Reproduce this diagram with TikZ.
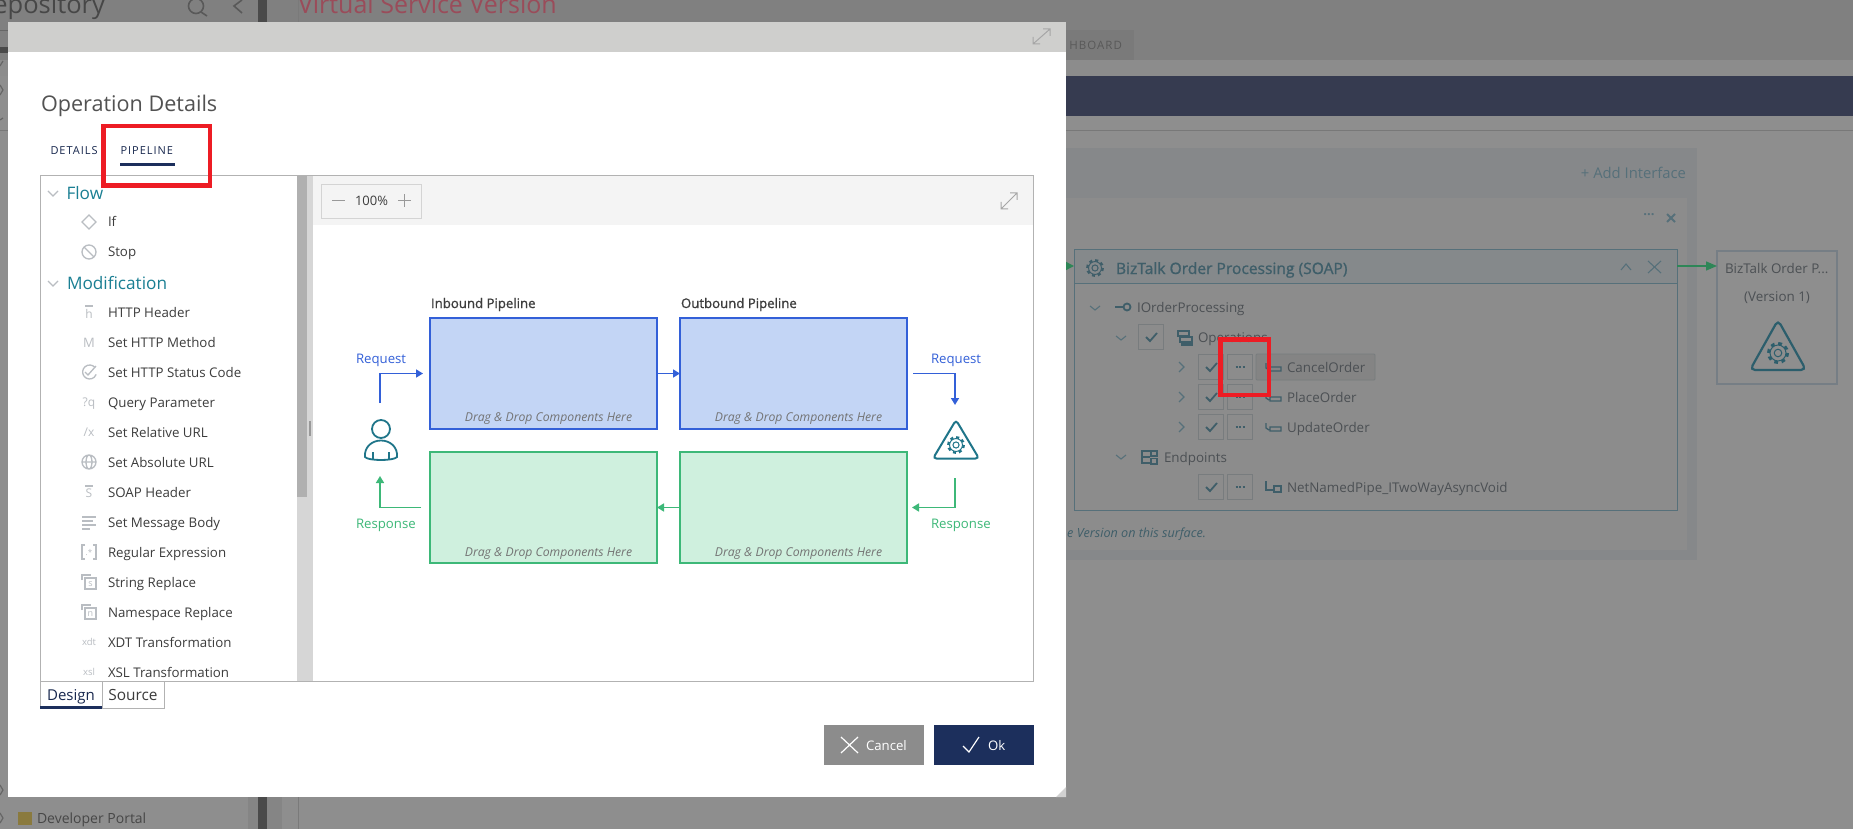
\documentclass[tikz,border=0pt]{standalone}
\usepackage{fontspec}
\setmainfont{Open Sans}
\newfontfamily\semifont[FakeBold=1.1]{Open Sans}
\newfontfamily\spacedfont[LetterSpace=9]{Open Sans}
\usetikzlibrary{arrows.meta}
\definecolor{navyui}{HTML}{1C2F5C}
\definecolor{tealui}{HTML}{1A7F93}
\definecolor{icongray}{HTML}{B9BDC2}
\definecolor{textui}{HTML}{3C3C3C}
\definecolor{redmark}{HTML}{ED1C24}
\definecolor{bluestroke}{HTML}{3360D8}
\definecolor{bluefill}{HTML}{C3D5F5}
\definecolor{greenstroke}{HTML}{3DB878}
\definecolor{greenfill}{HTML}{CFF0DE}
\definecolor{iconteal}{HTML}{1F7589}
\definecolor{dimpage}{HTML}{8E8E8E}
\definecolor{dimteal}{HTML}{3F5E69}
\definecolor{dimline}{HTML}{56707A}
\definecolor{dimtext}{HTML}{4C5054}
\definecolor{dimbox}{HTML}{787C7E}
\definecolor{dimgreen}{HTML}{2E8657}
\definecolor{navybar}{HTML}{363B50}
\definecolor{panelouter}{HTML}{86888A}
\definecolor{panelinner}{HTML}{8C8C8C}
\definecolor{darkstrip}{HTML}{4A4A4A}
\definecolor{sidestrip}{HTML}{858585}
\definecolor{folder}{HTML}{8A7A3E}
\definecolor{dimred}{HTML}{9A4C5A}
\definecolor{headerdim}{HTML}{85898B}
\definecolor{boxdim}{HTML}{767E85}
\definecolor{triteal}{HTML}{2C5E6C}
\definecolor{rowfill}{HTML}{848484}
\definecolor{modalhead}{HTML}{CFCFCD}
\definecolor{track}{HTML}{D6D6D6}
\definecolor{thumb}{HTML}{B0B0B0}
\definecolor{toolbar}{HTML}{F4F4F4}
\newcommand{\sz}[1]{\fontsize{#1}{#1}\selectfont}
\tikzset{
  plain/.style = {inner sep=0pt, outer sep=0pt},
  listtext/.style = {plain, anchor=base west, text=textui, font=\sz{13.3}},
  grouptext/.style = {plain, anchor=base west, text=tealui, font=\sz{17.2}},
  icontext/.style = {plain, anchor=base, text=icongray, font=\sz{#1}},
  icontext/.default = 12,
  iconline/.style = {draw=icongray, line width=1.3},
  fold/.style = {draw=#1, line width=1.1},
  fold/.default = icongray,
  panebox/.style = {plain, draw, minimum width=227pt, minimum height=111pt, line width=2},
  bluebox/.style = {panebox, draw=bluestroke, fill=bluefill},
  greenbox/.style = {panebox, draw=greenstroke, fill=greenfill},
  dragtext/.style = {plain, anchor=base, text=black!55, font=\sz{12.2}\itshape},
  titletext/.style = {plain, anchor=base west, text=textui, font=\semifont\sz{13.2}},
  flowlabel/.style = {plain, anchor=base west, text=#1, font=\sz{13.2}},
  blueflow/.style = {draw=bluestroke, line width=1.6, -{Triangle[length=7pt,width=8pt]}},
  greenflow/.style = {draw=greenstroke, line width=1.6, -{Triangle[length=7pt,width=8pt]}},
  redmarker/.style = {draw=redmark, line width=4.5},
  dimtick/.style = {plain, draw=dimbox, minimum width=25.5pt, minimum height=25.5pt, line width=0.8},
  dimrow/.style = {plain, anchor=base west, text=dimtext, font=\sz{13.4}},
  dimdots/.style = {draw=dimteal, line width=1.5, dash pattern=on 2 off 1.5},
}
\newcommand{\drawgear}[4]{% x, y, radius, colour
  \pgfmathsetmacro{\gearlen}{0.36*#3}
  \draw[#4, line width=1] (#1,#2) circle (0.36*#3);
  \draw[#4, line width=1] (#1,#2) circle (0.76*#3);
  \draw[#4, line width=0.26*#3, dash pattern=on \gearlen pt off \gearlen pt] (#1,#2) circle (0.92*#3);
}
\begin{document}
\begin{tikzpicture}[x=1pt,y=-1pt]
	\useasboundingbox (0,0) rectangle (1853,829);
	\def \col{1074}
	\def \drag{Drag \& Drop Components Here}

	% Page behind the dialog
	\fill[dimpage] (0,0) rectangle (1853,829);
	\fill[black!50] (0,0) rectangle (1853,60);
	\fill[black!52] (1000,30) rectangle (1134,60);
	\fill[black!45] (0,60) rectangle (1853,76);
	\fill[navybar] (1000,76) rectangle (1853,116);
	\draw[black!53, line width=1] (0,131) -- (1853,131);
	\fill[panelouter] (1000,148) rectangle (1697,560);
	\fill[panelinner] (1000,198) rectangle (1687,550);
	\fill[sidestrip] (248,797) rectangle (282,829);
	\fill[darkstrip] (258,0) rectangle (267,829);
	\draw[black!52, line width=1] (298,0) -- (298,829);
	\node[plain, anchor=base east, text=black!72, font=\sz{25.5}] (repotext) at (105,14) {epository};
	\draw[black!65, line width=1.6] (196,6) circle (7.5);
	\draw[black!65, line width=1.6] (201,12) -- (207,16);
	\draw[black!65, line width=1.6] (242,0) -- (234,6) -- (242,13);
	\node[plain, anchor=base west, text=dimred, font=\sz{25}] (versiontext) at (298,14) {Virtual Service Version};
	\node[plain, anchor=base east, text=black!65, font=\spacedfont\sz{11.5}] (dashtext) at (1122,50) {HBOARD};
	\fill[darkstrip] (0,47) rectangle (8,53);
	\draw[black!60, line width=1] (0,31) -- (8,31);
	\draw[black!60, line width=1.2] (0,66) -- (3,61);
	\draw[black!60, line width=1.2] (0,85) -- (3,90) -- (0,95);
	\draw[black!60, line width=1.2] (0,120) -- (3,118);
	\draw[black!60, line width=1.2] (0,785) -- (3,790) -- (0,795);
	\draw[black!60, line width=1.2] (0,813) -- (3,818) -- (0,823);
	\fill[folder] (18,812) rectangle (32,825);
	\node[plain, anchor=base west, text=black!72, font=\sz{14}] (portaltext) at (37,823) {Developer Portal};
	\node[plain, anchor=base east, text=dimline, font=\sz{14.8}] (addtext) at (1686,179) {+ Add Interface};
	\node[plain, text=dimline, font=\bfseries\sz{13}] (moredots) at (1649,215) {...};
	\draw[dimline, line width=2] (1667,214) -- (1675,222);
	\draw[dimline, line width=2] (1675,214) -- (1667,222);

	% Service box
	\fill[headerdim] (\col,250) rectangle (1677,283);
	\draw[dimline, line width=1] (\col,250) rectangle (1677,510);
	\draw[dimline, line width=1] (\col,283) -- (1677,283);
	\drawgear{1095}{268}{8.5}{dimteal}
	\node[plain, anchor=base west, text=dimteal, font=\semifont\sz{15.6}] (servicetitle) at (1116,274) {BizTalk Order Processing (SOAP)};
	\draw[dimline, line width=1.1] (1621,270) -- (1626,264) -- (1631,270);
	\draw[dimline, line width=1.1] (1648,261) -- (1661,273);
	\draw[dimline, line width=1.1] (1661,261) -- (1648,273);
	\draw[fold=dimline] (1090,306) -- (1095,310) -- (1100,306);
	\draw[dimteal, line width=1.5] (1115,307) -- (1123,307);
	\draw[dimteal, line width=1.8] (1127,307) circle (3.5);
	\node[dimrow] (ifacetext) at (1137,312) {IOrderProcessing};
	\draw[fold=dimline] (1116,336) -- (1121,340) -- (1126,336);
	\node[dimtick] (opscheck) at (1151,337) {};
	\draw[dimteal, line width=1.8] (1146,337) -- (1150,341) -- (1157,333);
	\draw[dimteal, line width=1.3] (1178,331) rectangle (1189,336);
	\draw[dimteal, line width=1.3] (1180,337) rectangle (1192,342);
	\draw[dimteal, line width=1.3] (1182,343) rectangle (1192,345);
	\node[dimrow] (opstext) at (1198,342) {Operations};

	% Operation rows
	\draw[fold=dimline] (1179,362) -- (1184,367) -- (1179,372);
	\draw[fold=dimline] (1179,392) -- (1184,397) -- (1179,402);
	\draw[fold=dimline] (1179,422) -- (1184,427) -- (1179,432);
	\node[dimtick] (cancelcheck) at (1211,367) {};
	\node[dimtick] (placecheck) at (1211,397) {};
	\node[dimtick] (updatecheck) at (1211,427) {};
	\node[dimtick] (cancelmore) at (1240,367) {};
	\node[dimtick] (placemore) at (1240,397) {};
	\node[dimtick] (updatemore) at (1240,427) {};
	\draw[dimteal, line width=1.8] (1206,367) -- (1210,371) -- (1217,363);
	\draw[dimteal, line width=1.8] (1206,397) -- (1210,401) -- (1217,393);
	\draw[dimteal, line width=1.8] (1206,427) -- (1210,431) -- (1217,423);
	\draw[dimdots] (1235.5,367) -- (1245,367);
	\draw[dimdots] (1235.5,397) -- (1245,397);
	\draw[dimdots] (1235.5,427) -- (1245,427);
	\filldraw[fill=rowfill, draw=dimbox, line width=0.8, rounded corners=1] (1256,354) rectangle (1375,380);
	\draw[dimteal, line width=1.3] (1266,363) -- (1266,368) -- (1269,370) (1270,367) rectangle (1281,371);
	\draw[dimteal, line width=1.3] (1266,393) -- (1266,398) -- (1269,400) (1270,397) rectangle (1281,401);
	\draw[dimteal, line width=1.3] (1266,423) -- (1266,428) -- (1269,430) (1270,427) rectangle (1281,431);
	\node[dimrow] (canceltext) at (1287,372) {CancelOrder};
	\node[dimrow] (placetext) at (1287,402) {PlaceOrder};
	\node[dimrow] (updatetext) at (1287,432) {UpdateOrder};

	% Endpoints
	\draw[fold=dimline] (1116,455) -- (1121,459) -- (1126,455);
	\draw[dimteal, line width=1.3] (1150,451) -- (1142,451) -- (1142,463) -- (1150,463) (1142,457) -- (1150,457);
	\draw[dimteal, line width=1.3] (1151,451) rectangle (1157,456) (1151,458.5) rectangle (1157,464);
	\node[dimrow] (pointstext) at (1164,462) {Endpoints};
	\node[dimtick] (pipecheck) at (1211,487) {};
	\node[dimtick] (pipemore) at (1240,487) {};
	\draw[dimteal, line width=1.8] (1206,487) -- (1210,491) -- (1217,483);
	\draw[dimdots] (1235.5,487) -- (1245,487);
	\draw[dimteal, line width=1.3] (1266,481) -- (1266,490) -- (1274,490) (1274,486) rectangle (1281,492);
	\node[dimrow] (pipetext) at (1287,492) {NetNamedPipe\_ITwoWayAsyncVoid};
	\node[plain, anchor=base east, text=dimteal, font=\sz{12.6}\itshape] (surfacetext) at (1206,537) {e Version on this surface.};

	% Version box
	\node[plain, draw=boxdim, line width=1.6, minimum width=120pt, minimum height=133pt] (versionbox) at (1777,317.5) {};
	\coordinate (serviceout) at (1677,266);
	\coordinate (versionin) at (1717,266);
	\coordinate (serviceinstart) at (1060,266);
	\coordinate (servicein) at (\col,266);
	\draw[draw=dimgreen, line width=1.4, -{Triangle[length=11pt,width=9pt]}] (serviceout) -- (versionin);
	\draw[draw=dimgreen, line width=1.4, -{Triangle[length=9pt,width=9pt]}] (serviceinstart) -- (servicein);
	\node[dimrow] (versionname) at (1725,273) {BizTalk Order P...};
	\node[dimrow, anchor=base] (versiontag) at (1777,301) {(Version 1)};
	\draw[triteal, line width=2.2, rounded corners=5] (1778,320) -- (1806,370) -- (1750,370) -- cycle;
	\drawgear{1778}{353}{10.5}{triteal}

	% Red mark on the page
	\draw[redmarker] (1220.25,339.25) rectangle (1268.75,394.75);

	% Dialog
	\fill[white] (8,22) rectangle (1066,797);
	\fill[modalhead] (8,22) rectangle (1066,52);
	\draw[black!35, line width=1] (1033,44) -- (1050,29) (1043,29) -- (1050,29) -- (1050,36) (1033,37) -- (1033,44) -- (1040,44);
	\fill[black!18] (1066,787) -- (1066,797) -- (1056,797) -- cycle;
	\node[plain, anchor=base west, text=black!68, font=\sz{21.6}] (dialogtitle) at (41,112) {Operation Details};
	\node[plain, anchor=base west, text=navyui!85!black, font=\spacedfont\sz{11}] (detailstab) at (50.5,155) {DETAILS};
	\node[plain, anchor=base west, text=navyui!85!black, font=\spacedfont\sz{11}] (pipelinetab) at (120.5,155) {PIPELINE};
	\fill[navyui] (120,163.5) rectangle (175,166);

	% Panes
	\fill[track] (297,176) rectangle (313,681);
	\fill[thumb] (297,176) rectangle (307,497);
	\fill[black!40] (309,421) rectangle (311,436);
	\fill[toolbar] (313,176) rectangle (1033,225);
	\draw[black!30, line width=1] (40,176) rectangle (1033,681);
	\node[plain, draw=black!17, minimum width=100pt, minimum height=34pt, line width=0.8] (zoombox) at (371,201) {};
	\draw[black!40, line width=1] (332,201) -- (345,201);
	\node[plain, text=textui, font=\sz{13}] (zoomtext) at (371.5,201) {100\%};
	\draw[black!40, line width=1] (398,201) -- (411,201) (404.5,194.5) -- (404.5,207.5);
	\draw[black!35, line width=1] (1001,209) -- (1017,193) (1010,193) -- (1017,193) -- (1017,200) (1001,202) -- (1001,209) -- (1008,209);

	% Flow group
	\draw[fold] (48,191) -- (53,196) -- (58,191);
	\node[grouptext] (flowtext) at (66.5,199.5) {Flow};
	\draw[iconline] (89,215) -- (96,222) -- (89,229) -- (82,222) -- cycle;
	\node[listtext] (iftext) at (108,227) {If};
	\draw[iconline] (89,252) circle (7);
	\draw[iconline] (84,247) -- (94,257);
	\node[listtext] (stoptext) at (108,257) {Stop};

	% Modification group
	\draw[fold] (48,281) -- (53,286) -- (58,281);
	\node[grouptext] (modtext) at (67,289) {Modification};
	\draw[iconline] (85,306) -- (93,306);
	\node[icontext=12] (headicon) at (89,318) {h};
	\node[listtext] (headtext) at (108,317) {HTTP Header};
	\node[icontext=13] (methodicon) at (89,347) {M};
	\node[listtext] (methodtext) at (108,347) {Set HTTP Method};
	\draw[iconline] (95,367.5) arc (-40:-340:7);
	\draw[iconline] (85,372) -- (88,375) -- (96,366);
	\node[listtext] (statustext) at (108,377) {Set HTTP Status Code};
	\node[icontext=12] (queryicon) at (89,406) {?q};
	\node[listtext] (querytext) at (108,407) {Query Parameter};
	\node[icontext=12] (relicon) at (89,436) {/x};
	\node[listtext] (reltext) at (108,437) {Set Relative URL};
	\draw[iconline] (89,462) circle (7) (82,462) -- (96,462) (89,462) ellipse (3 and 7);
	\node[listtext] (abstext) at (108,467) {Set Absolute URL};
	\draw[iconline] (85,486) -- (93,486);
	\node[icontext=12] (soapicon) at (89,497) {S};
	\node[listtext] (soaptext) at (108,497) {SOAP Header};
	\draw[iconline] (82,517) -- (96,517) (82,521) -- (93,521) (82,525) -- (96,525) (82,529) -- (90,529);
	\node[listtext] (bodytext) at (108,527) {Set Message Body};
	\draw[iconline] (85,545) -- (82,545) -- (82,559) -- (85,559) (93,545) -- (96,545) -- (96,559) -- (93,559);
	\node[icontext=8] (regexicon) at (89,555) {.*};
	\node[listtext] (regextext) at (108,557) {Regular Expression};
	\draw[iconline] (82,580) -- (82,575) -- (91,575);
	\draw[iconline] (85,578) rectangle (96,589);
	\node[icontext=9] (stringicon) at (90.5,586.5) {s};
	\node[listtext] (stringtext) at (108,587) {String Replace};
	\draw[iconline] (82,610) -- (82,605) -- (91,605);
	\draw[iconline] (85,608) rectangle (96,619);
	\node[icontext=9] (nsicon) at (90.5,616.5) {n};
	\node[listtext] (nstext) at (108,617) {Namespace Replace};
	\node[icontext=9.5] (xdticon) at (89,645) {xdt};
	\node[listtext] (xdttext) at (108,647) {XDT Transformation};
	\node[icontext=9.5] (xslicon) at (89,675) {xsl};
	\node[listtext] (xsltext) at (108,677) {XSL Transformation};

	% Design and Source tabs
	\fill[white] (41,681.5) rectangle (102,708);
	\draw[black!30, line width=1] (40,681) -- (40,708);
	\fill[navyui] (40,706) rectangle (102,708.5);
	\node[plain, anchor=base, text=navyui!85!black, font=\sz{15}] (designtab) at (71,700.5) {Design};
	\draw[black!30, line width=1, fill=white] (102,681) rectangle (164,708);
	\node[plain, anchor=base, text=textui, font=\sz{15.4}] (sourcetab) at (133,700.5) {Source};

	% Pipelines
	\node[bluebox] (inbound) at (543.5,373.5) {};
	\node[bluebox] (outbound) at (793.5,373.5) {};
	\node[greenbox] (inresponse) at (543.5,507.5) {};
	\node[greenbox] (outresponse) at (793.5,507.5) {};
	\node[titletext] (inboundtitle) at (431,308) {Inbound Pipeline};
	\node[titletext] (outboundtitle) at (681,308) {Outbound Pipeline};
	\node[dragtext] (indrag) at (548.5,421.5) {\drag};
	\node[dragtext] (outdrag) at (798.5,421.5) {\drag};
	\node[dragtext] (inrespdrag) at (548.5,556) {\drag};
	\node[dragtext] (outrespdrag) at (798.5,556) {\drag};

	% Connectors
	\coordinate (userout) at (380,403);
	\coordinate (inboundin) at (423,373.5);
	\coordinate (outboundout) at (913,373.5);
	\coordinate (serverin) at (955,405);
	\coordinate (serverout) at (955,478);
	\coordinate (outrespin) at (912,507.5);
	\coordinate (inrespout) at (421,507.5);
	\coordinate (userin) at (380,476);
	\draw[blueflow] (userout) |- (inboundin);
	\draw[blueflow] (inbound) -- (outbound.west);
	\draw[blueflow] (outboundout) -| (serverin);
	\draw[greenflow] (serverout) |- (outrespin);
	\draw[greenflow] (outresponse) -- (inresponse.east);
	\draw[greenflow] (inrespout) -| (userin);
	\node[flowlabel=bluestroke] (reqleft) at (356,363) {Request};
	\node[flowlabel=bluestroke] (reqright) at (931,363) {Request};
	\node[flowlabel=greenstroke] (respleft) at (356,528) {Response};
	\node[flowlabel=greenstroke] (respright) at (931,528) {Response};

	% User and server icons
	\draw[iconteal, line width=1.8] (381,429) circle (9);
	\draw[iconteal, line width=1.8] (365,457) .. controls (364,447) and (372,440.5) .. (381,440.5) .. controls (390,440.5) and (398,447) .. (397,457) .. controls (394,461) and (368,461) .. (365,457) -- cycle;
	\draw[iconteal, line width=1.3] (373,452) -- (373,459) (389,452) -- (389,459);
	\draw[iconteal, line width=2, rounded corners=3.5] (956,420) -- (979,458.5) -- (933,458.5) -- cycle;
	\drawgear{956}{445}{8.5}{iconteal}

	% Buttons
	\node[plain, fill=black!45, minimum width=100pt, minimum height=40pt] (cancelbutton) at (874,745) {};
	\node[plain, fill=navyui, minimum width=100pt, minimum height=40pt] (okbutton) at (984,745) {};
	\draw[white, line width=1.2] (841,737) -- (858,753) (858,737) -- (841,753);
	\node[plain, anchor=base west, text=white, font=\sz{13.2}] (canceltag) at (866,750) {Cancel};
	\draw[white, line width=1.2] (963,746) -- (969,752) -- (979,737);
	\node[plain, anchor=base west, text=white, font=\sz{13.2}] (oktag) at (988,750) {Ok};

	% Red mark on the dialog
	\draw[redmarker] (103.25,126.25) rectangle (209.75,185.75);
\end{tikzpicture}
\end{document}
